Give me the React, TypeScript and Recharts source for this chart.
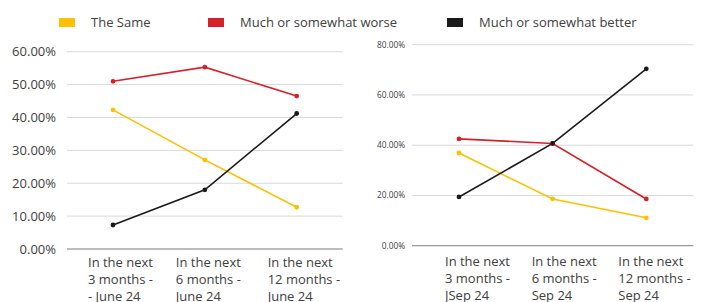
import { LineChart, Line, XAxis, YAxis, CartesianGrid } from "recharts";

const leftLabels = [
  ["In the next", "3 months -", "- June 24"],
  ["In the next", "6 months -", "June 24"],
  ["In the next", "12 months -", "June 24"],
];
const rightLabels = [
  ["In the next", "3 months -", "JSep 24"],
  ["In the next", "6 months -", "Sep 24"],
  ["In the next", "12 months -", "Sep 24"],
];

const leftSame = [42.3, 27.1, 12.7];
const leftWorse = [51.0, 55.3, 46.5];
const leftBetter = [7.3, 18.0, 41.2];

const rightSame = [36.9, 18.6, 11.1];
const rightWorse = [42.5, 40.7, 18.6];
const rightBetter = [19.4, 40.7, 70.4];

const leftTicks = [0, 10, 20, 30, 40, 50, 60];
const rightTicks = [0, 20, 40, 60, 80];

const SERIES = [
  { key: "same", name: "The Same", color: "#FFC000" },
  { key: "worse", name: "Much or somewhat worse", color: "#D7202A" },
  { key: "better", name: "Much or somewhat better", color: "#1A1A1A" },
];

const FONT = "'Open Sans', sans-serif";
const TEXT = "#404040";

const buildRows = (labels: string[][], same: number[], worse: number[], better: number[]) =>
  labels.map((l, i) => ({ name: l.join(" "), lines: l, same: same[i], worse: worse[i], better: better[i] }));

const leftData = buildRows(leftLabels, leftSame, leftWorse, leftBetter);
const rightData = buildRows(rightLabels, rightSame, rightWorse, rightBetter);

// text block start relative to the category point
const LEFT_SHIFT = [-25, -29, -29];
const RIGHT_SHIFT = [-14, -21, -28];

function MultiTick(props: any) {
  const { x, y, index, data, shift, dy } = props;
  const lines: string[] = data[index]?.lines ?? [];
  return (
    <text x={x + shift[index]} y={y} fill={TEXT} fontSize={13} fontFamily={FONT} textAnchor="start">
      {lines.map((t, i) => (
        <tspan key={i} x={x + shift[index]} y={y + dy + i * 17}>
          {t}
        </tspan>
      ))}
    </text>
  );
}

const pct = (v: number) => `${v.toFixed(2)}%`;

export default function App() {
  return (
    <div style={{ position: "absolute", left: 0, top: 0, width: 703, height: 302, background: "#fff", fontFamily: FONT }}>
      {/* legend */}
      {SERIES.map((s, i) => (
        <div
          key={s.key}
          style={{ position: "absolute", left: [59, 208, 447][i], top: 12, height: 20, display: "flex", alignItems: "center" }}
        >
          <div style={{ width: 16, height: 9, background: s.color, marginRight: 16 }} />
          <span style={{ fontSize: 13, color: TEXT, whiteSpace: "nowrap" }}>{s.name}</span>
        </div>
      ))}

      {/* left chart */}
      <div style={{ position: "absolute", left: 0, top: 0 }}>
        <LineChart width={350} height={302} data={leftData} margin={{ top: 51.7, right: 7.3, bottom: 0, left: 0 }}>
          <CartesianGrid vertical={false} stroke="#D9D9D9" strokeWidth={1} />
          <XAxis
            dataKey="name"
            height={53}
            padding={{ left: 46, right: 46 }}
            axisLine={{ stroke: "#8C8C8C" }}
            tickLine={false}
            interval={0}
            tick={<MultiTick data={leftData} shift={LEFT_SHIFT} dy={9.5} />}
          />
          <YAxis
            width={67}
            domain={[0, 60]}
            ticks={leftTicks}
            tickFormatter={pct}
            axisLine={false}
            tickLine={false}
            tickSize={6}
            tickMargin={5}
            tick={{ fill: TEXT, fontSize: 13, fontFamily: FONT }}
          />
          {SERIES.map((s) => (
            <Line
              key={s.key}
              dataKey={s.key}
              stroke={s.color}
              strokeWidth={1.6}
              dot={{ r: 1.6, fill: s.color, stroke: s.color }}
              isAnimationActive={false}
            />
          ))}
        </LineChart>
      </div>

      {/* right chart */}
      <div style={{ position: "absolute", left: 350, top: 0 }}>
        <LineChart width={353} height={302} data={rightData} margin={{ top: 44.7, right: 9.7, bottom: 0, left: 0 }}>
          <CartesianGrid vertical={false} stroke="#D9D9D9" strokeWidth={1} />
          <XAxis
            dataKey="name"
            height={56.3}
            padding={{ left: 47, right: 47 }}
            axisLine={{ stroke: "#8C8C8C" }}
            tickLine={false}
            interval={0}
            tick={<MultiTick data={rightData} shift={RIGHT_SHIFT} dy={12} />}
          />
          <YAxis
            width={62}
            domain={[0, 80]}
            ticks={rightTicks}
            tickFormatter={pct}
            axisLine={false}
            tickLine={false}
            tickSize={5}
            tickMargin={2}
            tick={{ fill: TEXT, fontSize: 8.3, fontFamily: FONT }}
          />
          {SERIES.map((s) => (
            <Line
              key={s.key}
              dataKey={s.key}
              stroke={s.color}
              strokeWidth={1.6}
              dot={{ r: 1.6, fill: s.color, stroke: s.color }}
              isAnimationActive={false}
            />
          ))}
        </LineChart>
      </div>
    </div>
  );
}
